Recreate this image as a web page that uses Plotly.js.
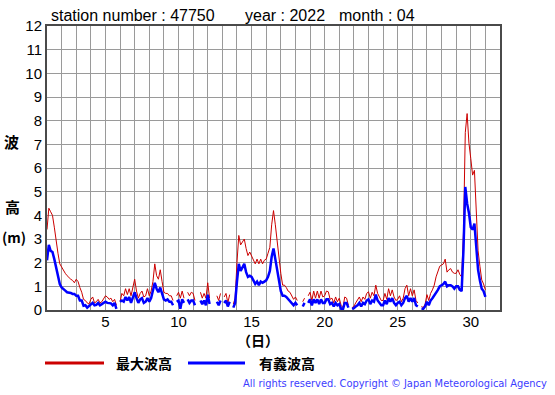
<!DOCTYPE html>
<html>
<head>
<meta charset="utf-8">
<script src="https://cdn.plot.ly/plotly-3.0.1.min.js"></script>
<style>
  html, body { margin: 0; padding: 0; background: #ffffff; }
  #chart { width: 555px; height: 395px; }
</style>
</head>
<body>
<div id="chart"></div>
<script>
// ---- data (8 samples per day, 3-hourly) ----
const stationNumber = '47750';
const year = '2022';
const month = '04';
const startDay = 1;
const samplesPerDay = 8;
const seriesNames = ['最大波高', '有義波高'];
const seriesColors = ['#cc0000', '#0000ff'];
const yTickLabels = ['0','1','2','3','4','5','6','7','8','9','10','11','12'];

// 最大波高 (maximum wave height, m)
const maxWave = [
  3.4, 4.3, 4.15, 4.0, 3.5, 2.9, 2.4, 1.95,      // 1
  1.8, 1.65, 1.55, 1.45, 1.35, 1.3, 1.25, 1.15,  // 2
  1.3, 1.2, 0.95, 0.75, 0.45, 0.4, 0.3, 0.25,    // 3
  0.45, 0.55, 0.3, 0.35, 0.45, 0.3, 0.35, 0.45,  // 4
  0.6, 0.55, 0.45, 0.5, 0.35, 0.45, 0.2, null,   // 5
  0.35, 0.7, 0.6, 0.9, 0.65, 0.9, 0.6, 1.0,      // 6
  1.3, 0.8, 0.5, 0.7, 0.8, 0.55, 0.6, 0.9,       // 7
  0.6, 0.8, 1.2, 1.95, 1.45, 1.3, 1.7, 1.2,      // 8
  0.75, 0.7, 0.7, 0.6, 0.6, 0.4, null, 0.6,      // 9
  0.75, 0.5, 0.8, 0.5, null, 0.75, 0.6, 0.75,    // 10
  0.7, 0.4, null, null, 0.75, 0.5, 0.7, 0.5,     // 11
  1.15, 0.5, null, null, null, 0.6, 0.4, 0.7,    // 12
  null, 0.55, 0.7, 0.3, 0.65, null, 0.25, 0.5,   // 13
  2.0, 3.15, 2.75, 2.9, 3.0, 2.6, 2.3, 2.45,     // 14
  2.3, 2.15, 1.95, 2.15, 1.95, 2.15, 1.95, 2.1,  // 15
  2.15, 2.4, 2.65, 3.6, 4.2, 3.6, 2.9, 2.05,     // 16
  1.55, 1.05, 1.05, 0.95, 0.8, 0.75, 0.6, 0.45,  // 17
  0.55, 0.4, null, null, 0.35, 0.5, null, 0.6,   // 18
  0.75, 0.4, 0.8, 0.5, 0.8, 0.5, 0.8, 0.55,      // 19
  0.6, 0.8, 0.77, 0.45, 0.5, 0.3, 0.55, 0.35,    // 20
  0.5, 0.2, 0.1, 0.55, 0.5, 0.2, null, 0.1,      // 21
  0.15, 0.3, 0.4, 0.55, 0.35, 0.55, 0.45, 0.7,   // 22
  0.77, 0.5, 0.75, 0.6, 1.05, 0.7, 0.55, 0.4,    // 23
  0.4, 0.7, 0.45, 0.9, 0.6, 0.85, 0.55, 0.4,     // 24
  0.45, 0.6, 0.35, 0.5, 0.9, 1.05, 0.6, 0.9,     // 25
  0.6, 0.85, 0.4, 0.3, null, 0.15, 0.1, 0.25,    // 26
  0.65, 0.4, 0.7, 0.85, 1.05, 1.4, 1.65, 1.85,   // 27
  1.9, 1.95, 2.15, 1.6, 1.7, 1.75, 1.6, 1.55,    // 28
  1.55, 1.7, 1.5, 1.4, 3.25, 7.5, 8.3, 7.05,     // 29
  6.4, 5.7, 5.9, 4.2, 2.5, 1.85, 1.27, 1.1,      // 30
  0.85                                           // 31 00h
];

// 有義波高 (significant wave height, m)
const sigWave = [
  2.1, 2.75, 2.5, 2.45, 2.15, 1.8, 1.4, 1.1,      // 1
  0.95, 0.9, 0.82, 0.75, 0.75, 0.72, 0.68, 0.68,  // 2
  0.6, 0.6, 0.4, 0.4, 0.18, 0.2, 0.1, 0.18,       // 3
  0.25, 0.3, 0.2, 0.22, 0.3, 0.2, 0.25, 0.3,      // 4
  0.35, 0.3, 0.3, 0.28, 0.2, 0.3, 0.05, null,     // 5
  0.35, 0.4, 0.35, 0.55, 0.4, 0.55, 0.3, 0.55,    // 6
  0.75, 0.5, 0.3, 0.45, 0.5, 0.3, 0.35, 0.5,      // 7
  0.35, 0.5, 0.8, 1.15, 0.9, 0.75, 0.95, 0.7,     // 8
  0.45, 0.4, 0.45, 0.35, 0.35, 0.2, null, 0.35,   // 9
  0.4, 0.05, 0.45, 0.3, null, 0.45, 0.3, 0.4,     // 10
  0.4, 0.2, null, null, 0.4, 0.25, 0.4, 0.2,      // 11
  0.65, 0.25, null, null, null, 0.35, 0.2, 0.4,   // 12
  null, 0.3, 0.4, 0.15, 0.35, null, 0.1, 0.3,     // 13
  1.2, 1.95, 1.65, 1.8, 1.95, 1.6, 1.4, 1.45,     // 14
  1.4, 1.25, 1.1, 1.2, 1.05, 1.2, 1.15, 1.2,      // 15
  1.25, 1.4, 1.65, 2.25, 2.6, 2.15, 1.65, 1.2,    // 16
  0.8, 0.6, 0.6, 0.55, 0.45, 0.4, 0.3, 0.2,       // 17
  0.3, 0.2, null, null, 0.15, 0.3, null, 0.3,     // 18
  0.45, 0.2, 0.45, 0.3, 0.45, 0.25, 0.45, 0.3,    // 19
  0.3, 0.45, 0.45, 0.25, 0.3, 0.15, 0.3, 0.2,     // 20
  0.25, 0.05, 0.02, 0.3, 0.3, 0.1, null, 0.05,    // 21
  0.08, 0.15, 0.2, 0.3, 0.15, 0.3, 0.25, 0.4,     // 22
  0.45, 0.25, 0.4, 0.35, 0.65, 0.4, 0.3, 0.2,     // 23
  0.2, 0.4, 0.25, 0.5, 0.35, 0.5, 0.3, 0.2,       // 24
  0.3, 0.35, 0.2, 0.3, 0.5, 0.6, 0.35, 0.5,       // 25
  0.35, 0.5, 0.2, 0.15, null, 0.05, 0.05, 0.15,   // 26
  0.35, 0.2, 0.4, 0.5, 0.6, 0.75, 0.85, 1.0,      // 27
  1.05, 1.1, 1.2, 1.0, 1.05, 1.05, 1.0, 0.9,      // 28
  1.0, 1.0, 0.85, 0.8, 2.55, 5.2, 4.5, 4.1,       // 29
  3.5, 3.4, 3.65, 2.8, 1.7, 1.25, 0.9, 0.8,       // 30
  0.55                                            // 31 00h
];

// time axis in days of the month
const timeDays = maxWave.map((_, i) => startDay + i / samplesPerDay);

// ---- chart ----
const L = 47, R = 55, T = 26, B = 85, W = 555, H = 395;
const pw = W - L - R, ph = H - T - B;
const px = x => (x - L) / pw;          // pixel -> paper x
const py = y => (H - B - y) / ph;      // pixel -> paper y

const latin = 'Liberation Sans, Arial, sans-serif';
const cjk = 'Noto Sans CJK JP, sans-serif';

const traces = [
  { x: timeDays, y: maxWave, name: seriesNames[0], type: 'scatter', mode: 'lines',
    line: { color: seriesColors[0], width: 1 }, connectgaps: false, showlegend: false },
  { x: timeDays, y: sigWave, name: seriesNames[1], type: 'scatter', mode: 'lines',
    line: { color: seriesColors[1], width: 2.5 }, connectgaps: false, showlegend: false }
];

const ann = (text, x, y, opts) => Object.assign({
  text, xref: 'paper', yref: 'paper', x: px(x), y: py(y),
  showarrow: false, xanchor: 'center', yanchor: 'middle', borderpad: 0
}, opts || {});

const layout = {
  width: W, height: H,
  margin: { l: L, r: R, t: T, b: B, pad: 0 },
  paper_bgcolor: '#ffffff', plot_bgcolor: '#ffffff',
  showlegend: false,
  xaxis: {
    range: [1, 32], tickmode: 'linear', tick0: 0, dtick: 5,
    showgrid: true, gridcolor: '#9a9a9a', gridwidth: 1,
    minor: { dtick: 1, tick0: 0, showgrid: true, gridcolor: '#9a9a9a', gridwidth: 1 },
    showline: true, linecolor: '#4a4a4a', linewidth: 2, mirror: true,
    zeroline: false, ticks: '', fixedrange: true, ticklabelstandoff: -3,
    tickfont: { family: latin, size: 15, color: '#000' }
  },
  yaxis: {
    range: [0, 12], tickmode: 'array',
    tickvals: yTickLabels.map(Number), ticktext: yTickLabels,
    showgrid: true, gridcolor: '#9a9a9a', gridwidth: 1,
    showline: true, linecolor: '#4a4a4a', linewidth: 2, mirror: true,
    zeroline: false, ticks: '', fixedrange: true,
    tickfont: { family: latin, size: 15, color: '#000' }
  },
  shapes: [
    { type: 'line', xref: 'paper', yref: 'paper', x0: px(45), x1: px(104), y0: py(363), y1: py(363),
      line: { color: seriesColors[0], width: 3 } },
    { type: 'line', xref: 'paper', yref: 'paper', x0: px(188), x1: px(245), y0: py(363), y1: py(363),
      line: { color: seriesColors[1], width: 3 } }
  ],
  annotations: [
    ann('station number : ' + stationNumber, 50, 15.5, { xanchor: 'left', font: { family: latin, size: 16, color: '#000' } }),
    ann('year : ' + year, 244, 15.5, { xanchor: 'left', font: { family: latin, size: 16, color: '#000' } }),
    ann('month : ' + month, 338, 15.5, { xanchor: 'left', font: { family: latin, size: 16, color: '#000' } }),
    ann('<b>波</b>', 11.5, 141.5, { font: { family: cjk, size: 15, color: '#000' } }),
    ann('<b>高</b>', 12.5, 206.5, { font: { family: cjk, size: 15, color: '#000' } }),
    ann('<b>(m)</b>', 13.5, 236.5, { font: { family: cjk, size: 14, color: '#000' } }),
    ann('<b>（日）</b>', 258, 339.5, { font: { family: cjk, size: 14, color: '#000' } }),
    ann('<b>' + seriesNames[0] + '</b>', 115, 363, { xanchor: 'left', font: { family: cjk, size: 14, color: '#000' } }),
    ann('<b>' + seriesNames[1] + '</b>', 258, 363, { xanchor: 'left', font: { family: cjk, size: 14, color: '#000' } }),
    ann('All rights reserved. Copyright © Japan Meteorological Agency', 548, 384,
      { xanchor: 'right', font: { family: 'DejaVu Sans, Verdana, sans-serif', size: 9.9, color: '#3c3cff' } })
  ]
};

Plotly.newPlot('chart', traces, layout, { staticPlot: true, displayModeBar: false });
</script>
</body>
</html>
